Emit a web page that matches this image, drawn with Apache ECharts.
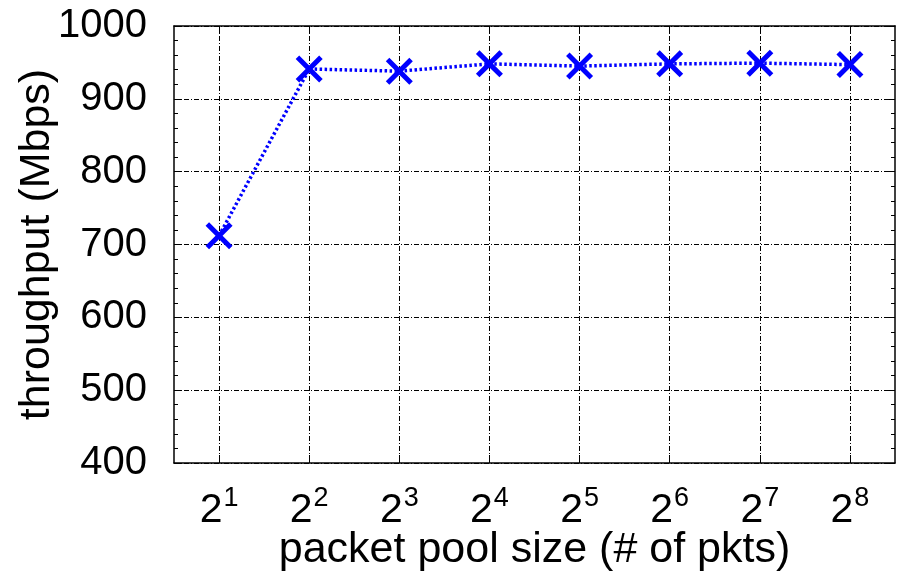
<!DOCTYPE html>
<html>
<head>
<meta charset="utf-8">
<script src="https://cdn.jsdelivr.net/npm/echarts@6/dist/echarts.min.js"></script>
<style>html,body{margin:0;padding:0;background:#fff;}#c{width:897px;height:572px;}</style>
</head>
<body>
<div id="c"></div>
<script>
const exponents = ['1','2','3','4','5','6','7','8'];
const throughput = [712, 941, 938, 948, 945, 948, 949, 947];
const yTicks = [400, 500, 600, 700, 800, 900, 1000];
const xName = 'packet pool size (# of pkts)';
const yName = 'throughput (Mbps)';

const FONT = '"Liberation Sans", Arial, Helvetica, sans-serif';
const gridDash = [5, 2, 1, 2];
const xPath = 'path://M0,1.3L1.3,0L5,3.7L8.7,0L10,1.3L6.3,5L10,8.7L8.7,10L5,6.3L1.3,10L0,8.7L3.7,5Z';

const chart = echarts.init(document.getElementById('c'), null, {renderer: 'canvas'});
chart.setOption({
  animation: false,
  backgroundColor: '#fff',
  grid: {left: 174, right: 2, top: 26, bottom: 109, containLabel: false, outerBoundsMode: 'none'},
  xAxis: [{
    type: 'category',
    data: exponents,
    boundaryGap: true,
    position: 'bottom',
    name: xName,
    nameLocation: 'middle',
    nameGap: 66,
    nameMoveOverlap: false,
    nameTextStyle: {fontFamily: FONT, fontSize: 43, color: '#000'},
    axisLine: {show: true, lineStyle: {color: '#000', width: 1.5}},
    axisTick: {show: true, inside: true, alignWithLabel: true, length: 8, lineStyle: {color: '#000'}},
    splitLine: {show: true, alignWithLabel: true, lineStyle: {color: '#000', width: 1, type: gridDash}},
    axisLabel: {
      margin: 22,
      formatter: v => '{b|2}{s|' + v + '}',
      rich: {
        b: {fontFamily: FONT, fontSize: 41, color: '#000'},
        s: {fontFamily: FONT, fontSize: 27, color: '#000', padding: [0, 0, 24, 1]}
      }
    }
  }, {
    type: 'category',
    data: exponents,
    boundaryGap: true,
    position: 'top',
    axisLine: {show: true, lineStyle: {color: '#000', width: 1.5}},
    axisTick: {show: true, inside: true, alignWithLabel: true, length: 8, lineStyle: {color: '#000'}},
    axisLabel: {show: false},
    splitLine: {show: false}
  }],
  yAxis: [{
    type: 'value',
    min: 400, max: 1000, interval: 100,
    position: 'left',
    name: yName,
    nameLocation: 'middle',
    nameGap: 115,
    nameMoveOverlap: false,
    nameTextStyle: {fontFamily: FONT, fontSize: 43, color: '#000'},
    axisLine: {show: true, lineStyle: {color: '#000', width: 1.5}},
    axisTick: {show: true, inside: true, length: 8, lineStyle: {color: '#000'}},
    minorTick: {show: true, splitNumber: 5, length: 4, lineStyle: {color: '#000'}},
    splitLine: {show: true, lineStyle: {color: '#000', width: 1, type: gridDash}},
    axisLabel: {margin: 27, fontFamily: FONT, fontSize: 40, color: '#000',
      formatter: v => String(v)}
  }, {
    type: 'value',
    min: 400, max: 1000, interval: 100,
    position: 'right',
    axisLine: {show: true, lineStyle: {color: '#000', width: 1.5}},
    axisTick: {show: true, inside: true, length: 8, lineStyle: {color: '#000'}},
    minorTick: {show: true, splitNumber: 5, length: 4, lineStyle: {color: '#000'}},
    splitLine: {show: false},
    axisLabel: {show: false}
  }],
  series: [{
    type: 'line',
    xAxisIndex: 0,
    yAxisIndex: 0,
    data: throughput,
    symbol: xPath,
    symbolSize: 27,
    showAllSymbol: true,
    itemStyle: {color: '#0000ff'},
    lineStyle: {color: '#0000ff', width: 3.5, type: [2.5, 2.5]},
    z: 5
  }]
});
</script>
</body>
</html>
